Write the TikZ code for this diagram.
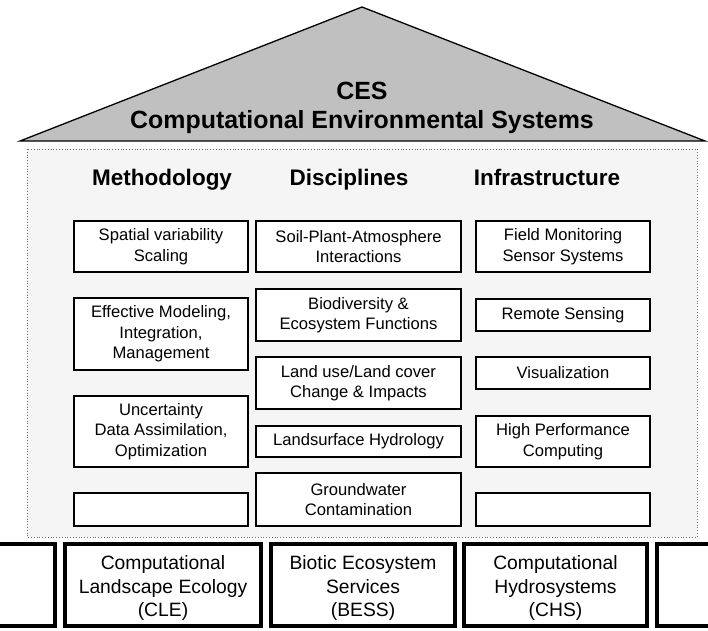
\documentclass[tikz,border=0pt]{standalone}
\usepackage{fontspec}
\setmainfont{Liberation Sans}
\begin{document}
\begin{tikzpicture}[x=1pt,y=-1pt,
  cell/.style={draw=black,line width=1.2pt,fill=white,inner sep=0pt,align=center,
    font=\fontsize{16.6}{20.5}\selectfont},
  head/.style={inner sep=0pt,anchor=base,font=\fontsize{22.5}{26}\selectfont\bfseries},
  pillar/.style={draw=black,line width=4pt,fill=white},
  ptext/.style={inner sep=0pt,align=center,font=\fontsize{19.3}{23.5}\selectfont}]
\clip (0,0) rectangle (708,630);
% roof
\filldraw[fill={rgb,255:red,192;green,192;blue,192},draw=black,line width=1.3pt,line join=miter]
  (20,141) -- (362,7) -- (705,141) -- cycle;
\node[inner sep=0pt,align=center,font=\fontsize{24.9}{29}\selectfont\bfseries] (title) at (362,107.5)
  {CES\\Computational Environmental Systems};
% body
\draw[fill={rgb,255:red,245;green,245;blue,245},draw={rgb,255:red,110;green,110;blue,110},line width=0.8pt,dotted]
  (27,149) rectangle (697,537);
\node[head] (hm) at (162,185) {Methodology};
\node[head] (hd) at (349,185) {Disciplines};
\node[head] (hi) at (547,185) {Infrastructure};
% methodology
\node[cell,minimum width=174pt,minimum height=51pt] (m1) at (161,246.5) {Spatial variability\\Scaling};
\node[cell,minimum width=174pt,minimum height=72pt] (m2) at (161,334) {Effective Modeling,\\Integration,\\Management};
\node[cell,minimum width=174pt,minimum height=71pt] (m3) at (161,431.5) {Uncertainty\\Data Assimilation,\\Optimization};
\node[cell,minimum width=174pt,minimum height=33pt] (m4) at (161,509.5) {};
% disciplines
\node[cell,minimum width=205pt,minimum height=51pt] (d1) at (358.5,246.5) {Soil-Plant-Atmosphere\\Interactions};
\node[cell,minimum width=205pt,minimum height=52pt] (d2) at (358.5,315) {Biodiversity \&\\Ecosystem Functions};
\node[cell,minimum width=205pt,minimum height=52pt] (d3) at (358.5,383) {Land use/Land cover\\Change \& Impacts};
\node[cell,minimum width=205pt,minimum height=31pt] (d4) at (358.5,441.5) {Landsurface Hydrology};
\node[cell,minimum width=205pt,minimum height=53pt] (d5) at (358.5,499.5) {Groundwater\\Contamination};
% infrastructure
\node[cell,minimum width=174pt,minimum height=51pt] (i1) at (563,246.5) {Field Monitoring\\Sensor Systems};
\node[cell,minimum width=174pt,minimum height=32pt] (i2) at (563,315) {Remote Sensing};
\node[cell,minimum width=174pt,minimum height=32pt] (i3) at (563,373) {Visualization};
\node[cell,minimum width=174pt,minimum height=51pt] (i4) at (563,441.5) {High Performance\\Computing};
\node[cell,minimum width=174pt,minimum height=33pt] (i5) at (563,509.5) {};
% pillars
\draw[pillar] (-10,544) rectangle (55,626);
\draw[pillar] (65,544) rectangle (261,626);
\draw[pillar] (271,544) rectangle (455,626);
\draw[pillar] (464,544) rectangle (647,626);
\draw[pillar] (657,544) rectangle (720,626);
\node[ptext] (cle) at (163,588) {Computational\\Landscape Ecology\\(CLE)};
\node[ptext] (bess) at (363,588) {Biotic Ecosystem\\Services\\(BESS)};
\node[ptext] (chs) at (555.5,588) {Computational\\Hydrosystems\\(CHS)};
\end{tikzpicture}
\end{document}
